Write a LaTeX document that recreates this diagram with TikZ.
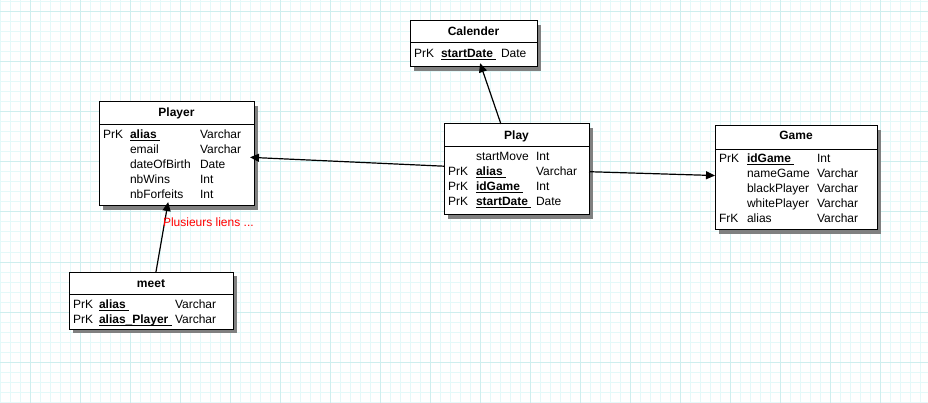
\documentclass[tikz,border=0pt]{standalone}
\usepackage{fontspec}
\setmainfont{Liberation Sans}
\usetikzlibrary{arrows.meta,shadows}
\definecolor{gridminor}{RGB}{228,249,249}
\definecolor{gridmajor}{RGB}{206,238,238}
\definecolor{shadowgray}{RGB}{128,128,128}
\newsavebox{\pkbox}
\newcommand{\pk}[1]{\sbox{\pkbox}{\textbf{#1}\ }\rlap{\vrule height -1.5pt depth 2.5pt width \wd\pkbox}\usebox{\pkbox}}
\tikzset{x=1pt, y=-1pt,
    every node/.style={font=\fontsize{12}{14}\selectfont, inner sep=0pt, outer sep=0pt},
    entity/.style={draw, fill=white, line width=1pt, anchor=north west,
        general shadow={fill=shadowgray, shadow xshift=4pt, shadow yshift=-4pt}},
    head/.style={anchor=base, font=\fontsize{12}{14}\selectfont\bfseries},
    field/.style={anchor=base west},
    conn/.style={line width=1.2pt, -{Triangle[length=9pt,width=8pt]}},
    }
\begin{document}
\begin{tikzpicture}
\useasboundingbox (0,0) rectangle (928,403);
\fill[white] (0,0) rectangle (928,403);
\draw[gridminor, line width=1pt] foreach \x in {0,10,...,920} {(\x,0) -- (\x,403)};
\draw[gridminor, line width=1pt] foreach \y in {2,12,...,402} {(0,\y) -- (928,\y)};
\draw[gridmajor, line width=1pt] foreach \x in {30,80,...,880} {(\x,0) -- (\x,403)};
\draw[gridmajor, line width=1pt] foreach \y in {12,62,...,362} {(0,\y) -- (928,\y)};

% Calender
\node[entity, minimum width=127pt, minimum height=46pt] (calender) at (410,21) {};
\draw (calender.west |- 0,42) -- (calender.east |- 0,42);
\node[head] (calender-h) at (473.5,36) {Calender};
\node[field] (calender-k1) at (414,58) {PrK};
\node[field] (calender-n1) at (441,58) {\pk{startDate}};
\node[field] (calender-t1) at (501,58) {Date};

% Player
\node[entity, minimum width=155pt, minimum height=104pt] (player) at (99,102) {};
\draw (player.west |- 0,124) -- (player.east |- 0,124);
\node[head] (player-h) at (176.5,117) {Player};
\foreach \k/\n/\t [count=\i] in {PrK/\pk{alias}/Varchar, /email/Varchar,
    /dateOfBirth/Date, /nbWins/Int, /nbForfeits/Int}{
  \node[field] (player-k\i) at (103,{139+15*(\i-1)}) {\k};
  \node[field] (player-n\i) at (130,{139+15*(\i-1)}) {\n};
  \node[field] (player-t\i) at (200,{139+15*(\i-1)}) {\t};
}

% Play
\node[entity, minimum width=145pt, minimum height=91pt] (play) at (444,124) {};
\draw (play.west |- 0,146) -- (play.east |- 0,146);
\node[head] (play-h) at (516.5,140) {Play};
\foreach \k/\n/\t [count=\i] in {/startMove/Int, PrK/\pk{alias}/Varchar,
    PrK/\pk{idGame}/Int, PrK/\pk{startDate}/Date}{
  \node[field] (play-k\i) at (448,{161+15*(\i-1)}) {\k};
  \node[field] (play-n\i) at (476,{161+15*(\i-1)}) {\n};
  \node[field] (play-t\i) at (536,{161+15*(\i-1)}) {\t};
}

% Game
\node[entity, minimum width=162pt, minimum height=104pt] (game) at (715,126) {};
\draw (game.west |- 0,149) -- (game.east |- 0,149);
\node[head] (game-h) at (796,140) {Game};
\foreach \k/\n/\t [count=\i] in {PrK/\pk{idGame}/Int, /nameGame/Varchar,
    /blackPlayer/Varchar, /whitePlayer/Varchar, FrK/alias/Varchar}{
  \node[field] (game-k\i) at (719,{163+15*(\i-1)}) {\k};
  \node[field] (game-n\i) at (747,{163+15*(\i-1)}) {\n};
  \node[field] (game-t\i) at (817,{163+15*(\i-1)}) {\t};
}

% meet
\node[entity, minimum width=164pt, minimum height=57pt] (meet) at (69,272) {};
\draw (meet.west |- 0,294) -- (meet.east |- 0,294);
\node[head] (meet-h) at (151,287) {meet};
\foreach \k/\n/\t [count=\i] in {PrK/\pk{alias}/Varchar, PrK/\pk{alias\_Player}/Varchar}{
  \node[field] (meet-k\i) at (73,{308+15*(\i-1)}) {\k};
  \node[field] (meet-n\i) at (99,{308+15*(\i-1)}) {\n};
  \node[field] (meet-t\i) at (175,{308+15*(\i-1)}) {\t};
}

% links
\draw[conn, shorten >=-4pt] (play) -- (calender);
\draw[conn, shorten >=-4pt] (play) -- (player);
\draw[conn] (play) -- (game);
\draw[conn, shorten >=-4pt] (meet) -- (player);
\node[field, text=red] (note) at (163,227) {Plusieurs liens ...};
\end{tikzpicture}
\end{document}
